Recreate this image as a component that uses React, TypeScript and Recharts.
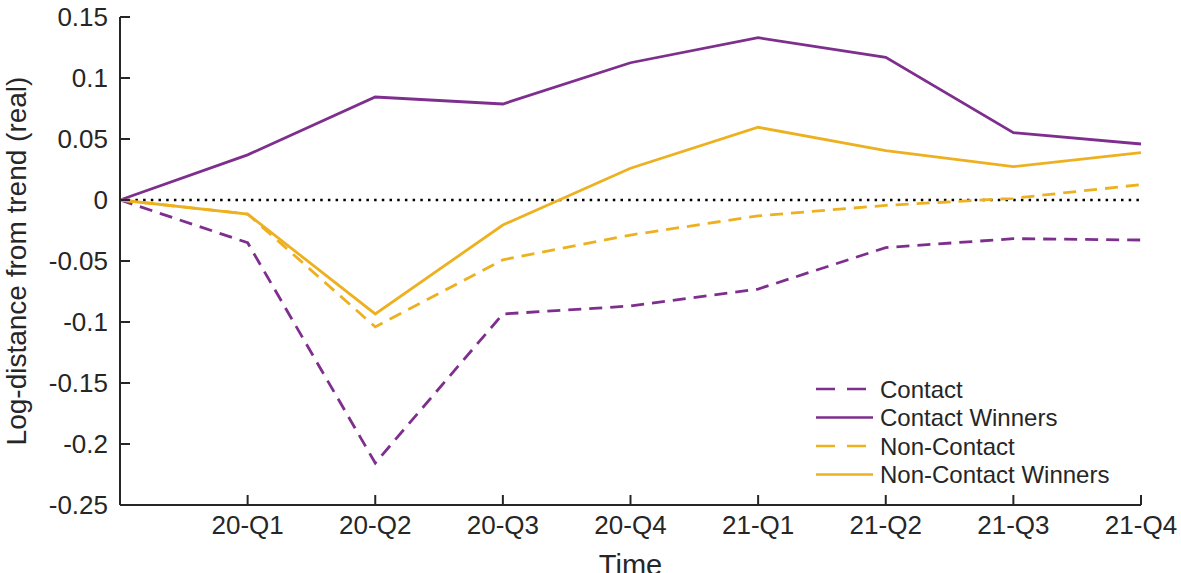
import React from 'react';
import { LineChart, Line, XAxis, YAxis, ReferenceLine } from 'recharts';

// Quarter labels; the first point is the pre-pandemic baseline (unlabelled)
const quarters = ['', '20-Q1', '20-Q2', '20-Q3', '20-Q4', '21-Q1', '21-Q2', '21-Q3', '21-Q4'];

// Log-distance from trend (real), by sector group
const contact = [0, -0.035, -0.2156, -0.0934, -0.0869, -0.073, -0.039, -0.0317, -0.0328];
const contactWinners = [0, 0.037, 0.0844, 0.0787, 0.1125, 0.133, 0.117, 0.0552, 0.0459];
const nonContact = [0, -0.0115, -0.104, -0.049, -0.0287, -0.013, -0.0044, 0.0014, 0.0126];
const nonContactWinners = [0, -0.0115, -0.0934, -0.0205, 0.026, 0.0596, 0.0404, 0.0273, 0.0388];

const yTicks = [0.15, 0.1, 0.05, 0, -0.05, -0.1, -0.15, -0.2, -0.25];

const PURPLE = '#7E2F8E';
const YELLOW = '#EDB120';
const INK = '#262626';
const FONT = '"Liberation Sans", Arial, Helvetica, sans-serif';

const data = quarters.map((q, i) => ({
  q,
  contact: contact[i],
  contactWinners: contactWinners[i],
  nonContact: nonContact[i],
  nonContactWinners: nonContactWinners[i],
}));

const legendItems = [
  { label: 'Contact', color: PURPLE, dash: '19 12' },
  { label: 'Contact Winners', color: PURPLE, dash: undefined },
  { label: 'Non-Contact', color: YELLOW, dash: '19 12' },
  { label: 'Non-Contact Winners', color: YELLOW, dash: undefined },
];

function LegendBox() {
  return (
    <svg width={320} height={120} style={{ position: 'absolute', left: 816, top: 375 }}>
      {legendItems.map((it) => null)}
      {legendItems.map((it, i) => {
        const y = 14 + i * 28.5;
        return (
          <g key={it.label}>
            <line x1={0} x2={57} y1={y} y2={y} stroke={it.color} strokeWidth={2.5} strokeDasharray={it.dash} />
            <text x={64} y={y} dy="0.36em" fontSize={24} fontFamily={FONT} fill={INK}>
              {it.label}
            </text>
          </g>
        );
      })}
    </svg>
  );
}

export default function App() {
  return (
    <div style={{ position: 'absolute', left: 0, top: 0, width: 1181, height: 573, background: '#fff' }}>
      <LineChart
        width={1181}
        height={573}
        data={data}
        margin={{ top: 17, right: 40, left: 0, bottom: 0 }}
        style={{ fontFamily: FONT }}
      >
        <XAxis
          dataKey="q"
          interval={0}
          height={68}
          padding={{ left: 0, right: 0 }}
          stroke={INK}
          axisLine={{ stroke: INK, strokeWidth: 2 }}
          tickLine={{ stroke: INK, strokeWidth: 2 }}
          tickSize={-10}
          tickMargin={21}
          tick={{ fill: INK, fontSize: 26, fontFamily: FONT }}
          label={{ value: 'Time', position: 'insideBottom', offset: -2, fill: INK, fontSize: 29, fontFamily: FONT }}
        />
        <YAxis
          type="number"
          domain={[-0.25, 0.15]}
          ticks={yTicks}
          interval={0}
          width={120}
          stroke={INK}
          axisLine={{ stroke: INK, strokeWidth: 2 }}
          tickLine={{ stroke: INK, strokeWidth: 2 }}
          tickSize={-10}
          tickMargin={22}
          tickFormatter={(v: number) => String(v)}
          tick={{ fill: INK, fontSize: 26, fontFamily: FONT }}
          label={{
            value: 'Log-distance from trend (real)',
            angle: -90,
            position: 'insideLeft',
            offset: 16,
            style: { textAnchor: 'middle' },
            fill: INK,
            fontSize: 28,
            fontFamily: FONT,
          }}
        />
        <ReferenceLine y={0} stroke="#000" strokeWidth={2.5} strokeDasharray="2.5 5.2" />
        <Line
          dataKey="contact"
          name="Contact"
          stroke={PURPLE}
          strokeWidth={2.8}
          strokeDasharray="13 8"
          dot={false}
          activeDot={false}
          isAnimationActive={false}
        />
        <Line
          dataKey="contactWinners"
          name="Contact Winners"
          stroke={PURPLE}
          strokeWidth={2.8}
          dot={false}
          activeDot={false}
          isAnimationActive={false}
        />
        <Line
          dataKey="nonContact"
          name="Non-Contact"
          stroke={YELLOW}
          strokeWidth={2.8}
          strokeDasharray="13 8"
          dot={false}
          activeDot={false}
          isAnimationActive={false}
        />
        <Line
          dataKey="nonContactWinners"
          name="Non-Contact Winners"
          stroke={YELLOW}
          strokeWidth={2.8}
          dot={false}
          activeDot={false}
          isAnimationActive={false}
        />
      </LineChart>
      <LegendBox />
    </div>
  );
}
